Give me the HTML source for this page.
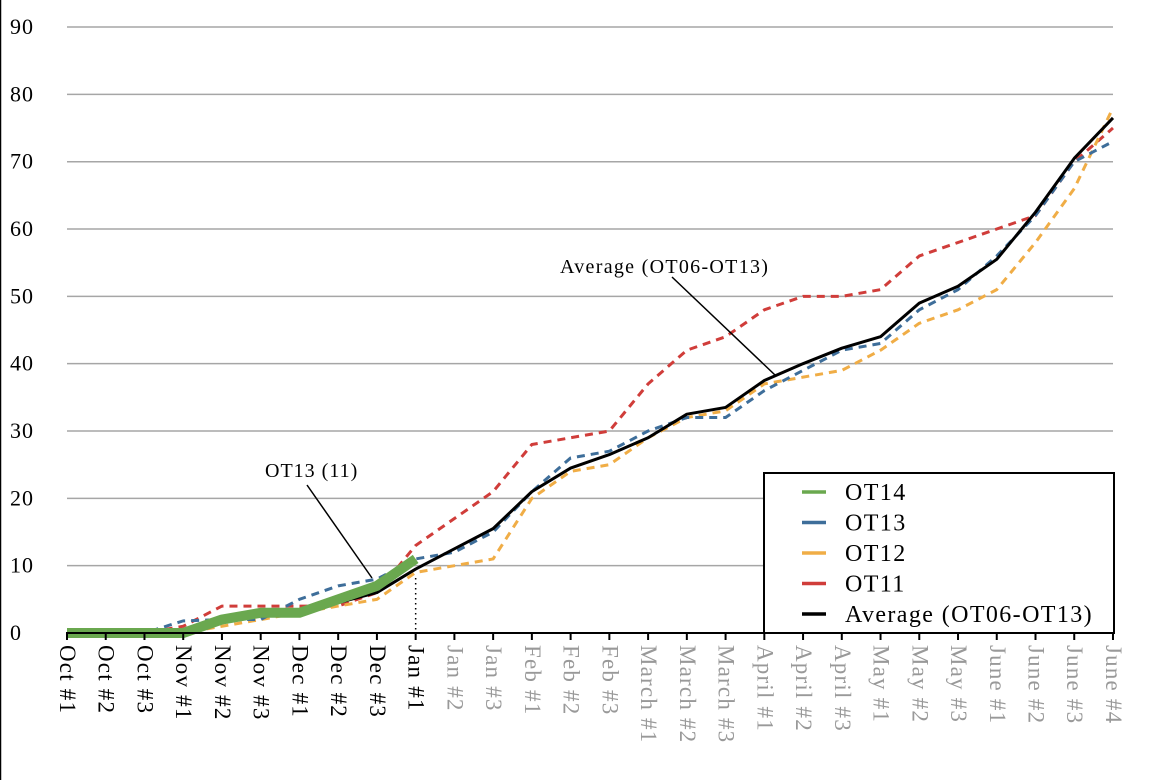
<!DOCTYPE html>
<html><head><meta charset="utf-8"><style>
html,body{margin:0;padding:0;background:#fff;width:1160px;height:780px;overflow:hidden}
svg text{font-family:"Liberation Serif",serif}
</style></head><body>
<svg id="c" width="1160" height="780" xmlns="http://www.w3.org/2000/svg">
<line x1="0.5" y1="0" x2="0.5" y2="780" stroke="#000" stroke-width="1.5"/>
<g id="g"></g>
</svg>
<script>
const NS="http://www.w3.org/2000/svg",g=document.getElementById('g');
function el(t,a,txt){const e=document.createElementNS(NS,t);for(const k in a)e.setAttribute(k,a[k]);if(txt!=null)e.textContent=txt;g.appendChild(e);return e;}
const X=i=>67+i*38.74, Y=v=>633-v*6.733;
for(let v=10;v<=90;v+=10)el('line',{x1:67,x2:1113,y1:Y(v),y2:Y(v),stroke:'#a6a6a6','stroke-width':1.5});
for(let v=0;v<=90;v+=10)el('text',{x:10,y:Y(v)+7,'font-size':22,'letter-spacing':1,fill:'#000'},String(v));
const cats=["Oct #1","Oct #2","Oct #3","Nov #1","Nov #2","Nov #3","Dec #1","Dec #2","Dec #3","Jan #1","Jan #2","Jan #3","Feb #1","Feb #2","Feb #3","March #1","March #2","March #3","April #1","April #2","April #3","May #1","May #2","May #3","June #1","June #2","June #3","June #4"];
function pl(d,c,w,dash){el('polyline',{points:d.map((v,i)=>X(i)+','+Y(v)).join(' '),fill:'none',stroke:c,'stroke-width':w,'stroke-dasharray':dash||'none','stroke-linejoin':'round'});}
const ot11=[0,0,0,1,4,4,4,4,6,13,17,21,28,29,30,37,42,44,48,50,50,51,56,58,60,62,70,75];
const ot12=[0,0,0,0,1,2,3,4,5,9,10,11,20,24,25,29,32,33,37,38,39,42,46,48,51,58,66,78];
const ot13=[0,0,0,1.8,2,2,5,7,8,11,12,15,21,26,27,30,32,32,36,39,42,43,48,51,56,62,70,73];
const avg=[0,0,0,0.3,2,2.5,3,4.5,6,9.5,12.5,15.5,21,24.5,26.5,29,32.5,33.5,37.5,40,42.3,44,49,51.5,55.5,62.5,70.5,76.5];
const ot14=[0,0,0,0,2,3,3,5,7,11];
pl(ot11,'#d03d3a',3,'8,6');
pl(ot12,'#f0ad46',3,'8,6');
pl(ot13,'#3e6e9a',3,'8,6');
pl(avg,'#000',3);
pl(ot14,'#6aa84f',10);
el('line',{x1:X(9),x2:X(9),y1:578,y2:633,stroke:'#000','stroke-width':1.5,'stroke-dasharray':'1.5,3.5'});
el('line',{x1:66,x2:1114,y1:633,y2:633,stroke:'#000','stroke-width':2});
cats.forEach((c,i)=>{el('line',{x1:X(i),x2:X(i),y1:633,y2:640,stroke:'#000','stroke-width':2});
 el('text',{transform:`translate(${X(i)-7},645) rotate(90)`,'font-size':23,'letter-spacing':1.2,fill:i>=10?'#999':'#000'},c);});
el('text',{x:560,y:273,'font-size':20,'letter-spacing':1.3},'Average (OT06-OT13)');
el('line',{x1:672,y1:277,x2:775,y2:375,stroke:'#000','stroke-width':1.5});
el('text',{x:265,y:477,'font-size':20,'letter-spacing':1},'OT13 (11)');
el('line',{x1:307,y1:485,x2:372,y2:578,stroke:'#000','stroke-width':1.5});
el('rect',{x:764,y:473,width:350,height:160,fill:'#fff',stroke:'#000','stroke-width':2});
[['OT14','#6aa84f'],['OT13','#3e6e9a'],['OT12','#f0ad46'],['OT11','#d03d3a'],['Average (OT06-OT13)','#000']].forEach((d,i)=>{
 const y=492+i*30.5;el('line',{x1:802,x2:826,y1:y,y2:y,stroke:d[1],'stroke-width':3.5});
 el('text',{x:845,y:y+8,'font-size':24,'letter-spacing':1.4},d[0]);});
</script>
</body></html>
